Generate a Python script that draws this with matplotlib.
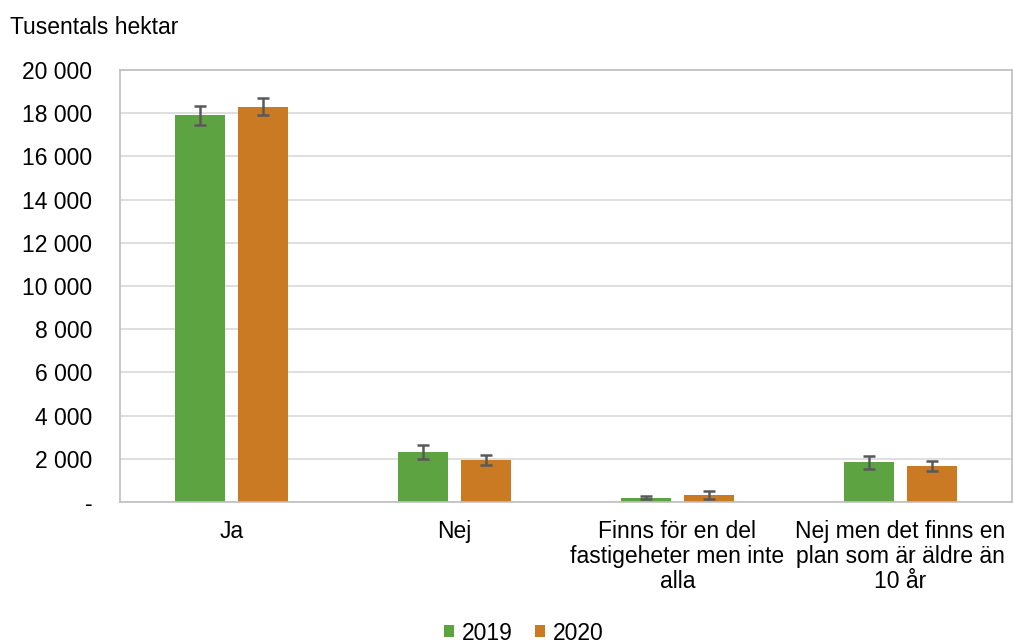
import matplotlib.pyplot as plt
import numpy as np

plt.rcParams['font.family'] = ['Liberation Sans', 'DejaVu Sans']

# chart input
categories = ["Ja", "Nej", "Finns för en del\nfastigeheter men inte\nalla",
              "Nej men det finns en\nplan som är äldre än\n10 år"]
values_2019 = [17900, 2300, 200, 1850]
values_2020 = [18300, 1950, 330, 1670]
err_2019 = [450, 320, 80, 300]
err_2020 = [400, 230, 170, 230]
yticks = list(range(0, 20001, 2000))
ytick_labels = ["-"] + [f"{v:,}".replace(",", " ") for v in yticks[1:]]

green = "#5ea342"
orange = "#c97a23"
fs = 16.5

fig = plt.figure(figsize=(10.14, 6.44), dpi=100)
ax = fig.add_axes([120 / 1014, 1 - 502 / 644, 892 / 1014, 432 / 644])

x = np.arange(len(categories))
w = 0.224
off = 0.143
ax.bar(x - off, values_2019, w, color=green, label="2019", zorder=2)
ax.bar(x + off, values_2020, w, color=orange, label="2020", zorder=2)
ax.errorbar(x - off, values_2019, yerr=err_2019, fmt="none", ecolor="#595959",
            elinewidth=1.8, capsize=4.5, capthick=1.8, zorder=3)
ax.errorbar(x + off, values_2020, yerr=err_2020, fmt="none", ecolor="#595959",
            elinewidth=1.8, capsize=4.5, capthick=1.8, zorder=3)

ax.set_xlim(-0.5, len(categories) - 0.5)
ax.set_ylim(0, 20000)
ax.set_yticks(yticks)
ax.set_yticklabels(ytick_labels)
ax.set_xticks(x)
ax.set_xticklabels(categories, linespacing=1.12)
ax.tick_params(axis='both', which='both', length=0, labelsize=fs)
ax.tick_params(axis='x', pad=13)
ax.tick_params(axis='y', pad=20)
ax.grid(axis='y', color="#d9d9d9", linewidth=1.2, zorder=0)
for s in ax.spines.values():
    s.set_color("#bfbfbf")
    s.set_linewidth(1.2)

fig.text(10 / 1014, 1 - 27 / 644, "Tusentals hektar", fontsize=fs, ha="left", va="center")

fig.legend(loc="center", bbox_to_anchor=(524 / 1014, 1 - 633 / 644), ncol=2, frameon=False,
           fontsize=fs, handlelength=0.45, handleheight=0.45, handletextpad=0.35,
           columnspacing=0.95, borderaxespad=0, borderpad=0)

fig.savefig("out.png", dpi=100)
